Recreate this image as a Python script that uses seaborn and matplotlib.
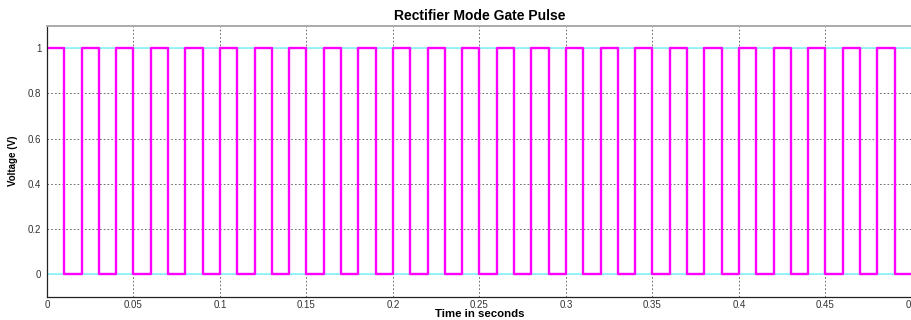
import matplotlib
matplotlib.use("Agg")
import matplotlib.pyplot as plt
import seaborn as sns
import pandas as pd

# Switching instants of the gate signal (s) and the level held from each instant on
edge_times = [0.00, 0.01, 0.02, 0.03, 0.04, 0.05, 0.06, 0.07, 0.08, 0.09,
              0.10, 0.11, 0.12, 0.13, 0.14, 0.15, 0.16, 0.17, 0.18, 0.19,
              0.20, 0.21, 0.22, 0.23, 0.24, 0.25, 0.26, 0.27, 0.28, 0.29,
              0.30, 0.31, 0.32, 0.33, 0.34, 0.35, 0.36, 0.37, 0.38, 0.39,
              0.40, 0.41, 0.42, 0.43, 0.44, 0.45, 0.46, 0.47, 0.48, 0.49,
              0.50]
gate_levels = [1, 0, 1, 0, 1, 0, 1, 0, 1, 0,
               1, 0, 1, 0, 1, 0, 1, 0, 1, 0,
               1, 0, 1, 0, 1, 0, 1, 0, 1, 0,
               1, 0, 1, 0, 1, 0, 1, 0, 1, 0,
               1, 0, 1, 0, 1, 0, 1, 0, 1, 0,
               0]
# Complementary gate (drawn underneath)
comp_levels = [0, 1, 0, 1, 0, 1, 0, 1, 0, 1,
               0, 1, 0, 1, 0, 1, 0, 1, 0, 1,
               0, 1, 0, 1, 0, 1, 0, 1, 0, 1,
               0, 1, 0, 1, 0, 1, 0, 1, 0, 1,
               0, 1, 0, 1, 0, 1, 0, 1, 0, 1,
               1]

x_ticks = [0, 0.05, 0.1, 0.15, 0.2, 0.25, 0.3, 0.35, 0.4, 0.45, 0.5]
x_tick_labels = ["0", "0.05", "0.1", "0.15", "0.2", "0.25", "0.3", "0.35", "0.4", "0.45", "0.5"]
y_ticks = [0, 0.2, 0.4, 0.6, 0.8, 1]
y_tick_labels = ["0", "0.2", "0.4", "0.6", "0.8", "1"]

df = pd.DataFrame({"t": edge_times, "gate": gate_levels, "comp": comp_levels})

sns.set_style("white")
plt.rcParams["font.family"] = ["Liberation Sans", "DejaVu Sans"]

fig = plt.figure(figsize=(9.12, 3.2), dpi=100)
ax = fig.add_axes([0.0515, 0.073, 0.9485, 0.847])

sns.lineplot(data=df, x="t", y="comp", ax=ax, color="#8ff5f8", linewidth=1.3,
             drawstyle="steps-post", estimator=None, sort=False)
sns.lineplot(data=df, x="t", y="gate", ax=ax, color="#ff00ff", linewidth=1.7,
             drawstyle="steps-post", estimator=None, sort=False)

ax.set_xlim(0, 0.5)
ax.set_ylim(-0.1, 1.1)
ax.set_xticks(x_ticks)
ax.set_xticklabels(x_tick_labels)
ax.set_yticks(y_ticks)
ax.set_yticklabels(y_tick_labels)
ax.tick_params(axis="both", labelsize=7, colors="#333333", direction="in",
               length=3, width=0.6)
ax.tick_params(axis="x", pad=2.5)
ax.tick_params(axis="y", pad=4)
ax.grid(True, linestyle=(0, (2, 2.5)), color="#555555", linewidth=0.6)

for side in ["left", "bottom"]:
    ax.spines[side].set_color("#222222")
    ax.spines[side].set_linewidth(0.9)
ax.spines["top"].set_color("#aaaaaa")
ax.spines["top"].set_linewidth(1.4)
ax.spines["right"].set_visible(False)

ax.set_title("Rectifier Mode Gate Pulse", fontsize=10, fontweight="bold",
             pad=4, color="black")
ax.set_xlabel("Time in seconds", fontsize=8.2, fontweight="bold",
              labelpad=-1, color="black")
ax.set_ylabel("Voltage (V)", fontsize=7, fontweight="bold",
              labelpad=7, color="black")

fig.savefig("out.png", dpi=100)
